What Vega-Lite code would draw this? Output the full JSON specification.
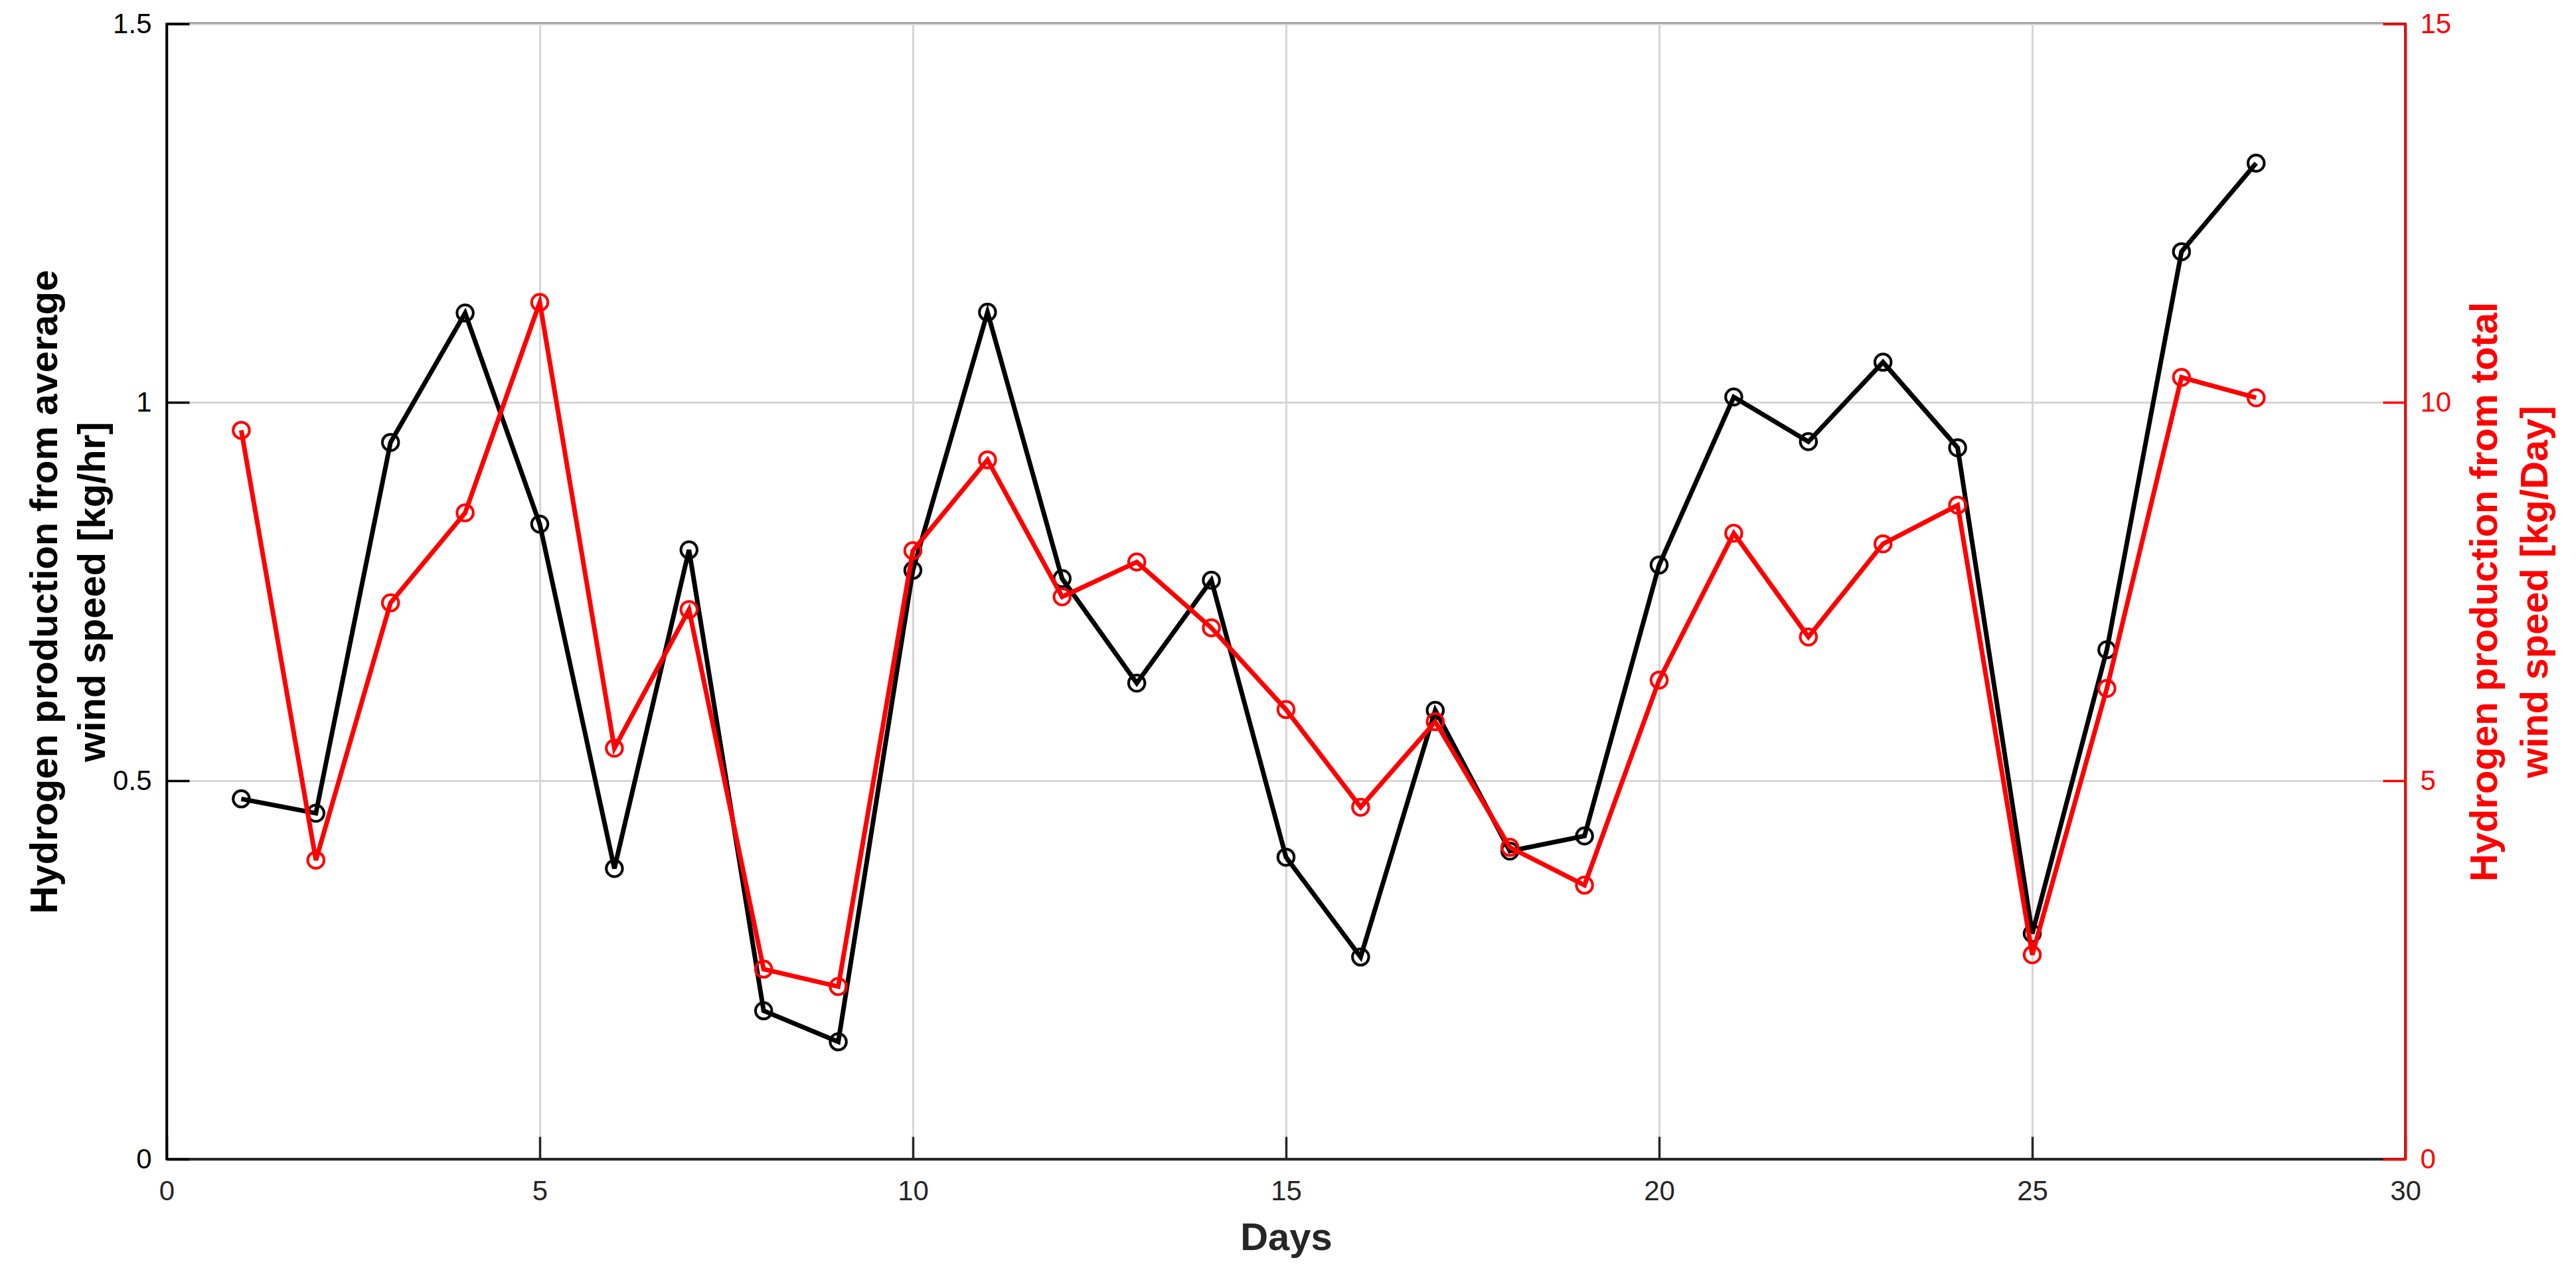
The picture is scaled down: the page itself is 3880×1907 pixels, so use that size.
{
  "$schema": "https://vega.github.io/schema/vega-lite/v6.json",
  "width": 3372,
  "height": 1710,
  "autosize": "none",
  "padding": {"left": 251, "top": 36, "right": 257, "bottom": 161},
  "background": "white",
  "config": {
    "font": "Liberation Sans",
    "view": {"stroke": "#000000", "strokeWidth": 3.5},
    "axis": {
      "labelFont": "Liberation Sans",
      "titleFont": "Liberation Sans",
      "labelFontSize": 42,
      "titleFontSize": 58,
      "titleFontWeight": "bold",
      "tickWidth": 3.5,
      "domainWidth": 3.5,
      "gridColor": "#d6d6d6",
      "gridWidth": 3,
      "gridOpacity": 1
    }
  },
  "data": {
    "values": [
      {"day": 1, "avg": 0.476, "total": 9.63},
      {"day": 2, "avg": 0.457, "total": 3.95},
      {"day": 3, "avg": 0.947, "total": 7.35},
      {"day": 4, "avg": 1.118, "total": 8.54},
      {"day": 5, "avg": 0.839, "total": 11.32},
      {"day": 6, "avg": 0.384, "total": 5.43},
      {"day": 7, "avg": 0.805, "total": 7.26},
      {"day": 8, "avg": 0.196, "total": 2.51},
      {"day": 9, "avg": 0.155, "total": 2.28},
      {"day": 10, "avg": 0.778, "total": 8.04},
      {"day": 11, "avg": 1.119, "total": 9.24},
      {"day": 12, "avg": 0.767, "total": 7.43},
      {"day": 13, "avg": 0.629, "total": 7.89},
      {"day": 14, "avg": 0.765, "total": 7.02},
      {"day": 15, "avg": 0.399, "total": 5.94},
      {"day": 16, "avg": 0.267, "total": 4.65},
      {"day": 17, "avg": 0.593, "total": 5.78},
      {"day": 18, "avg": 0.407, "total": 4.12},
      {"day": 19, "avg": 0.427, "total": 3.62},
      {"day": 20, "avg": 0.785, "total": 6.33},
      {"day": 21, "avg": 1.007, "total": 8.27},
      {"day": 22, "avg": 0.948, "total": 6.9},
      {"day": 23, "avg": 1.053, "total": 8.13},
      {"day": 24, "avg": 0.94, "total": 8.64},
      {"day": 25, "avg": 0.298, "total": 2.7},
      {"day": 26, "avg": 0.673, "total": 6.22},
      {"day": 27, "avg": 1.199, "total": 10.33},
      {"day": 28, "avg": 1.316, "total": 10.06}
    ]
  },
  "encoding": {
    "x": {
      "field": "day",
      "type": "quantitative",
      "scale": {"domain": [0, 30], "nice": false, "zero": false},
      "axis": {
        "values": [0, 5, 10, 15, 20, 25, 30],
        "title": "Days",
        "titleColor": "#262626",
        "labelColor": "#262626",
        "domainColor": "#262626",
        "tickColor": "#262626",
        "tickSize": -34,
        "labelPadding": 62,
        "labelFlush": false,
        "grid": true,
        "titleY": 136,
        "titleBaseline": "alphabetic"
      }
    }
  },
  "layer": [
    {
      "encoding": {
        "y": {
          "field": "avg",
          "type": "quantitative",
          "scale": {"domain": [0, 1.5], "nice": false},
          "axis": {
            "values": [0, 0.5, 1, 1.5],
            "format": "~g",
            "grid": true,
            "tickSize": -34,
            "labelPadding": 57,
            "labelFlush": false,
            "labelColor": "#000000",
            "domainColor": "#000000",
            "tickColor": "#000000",
            "titleColor": "#000000",
            "title": ["Hydrogen production from average", "wind speed [kg/hr]"],
            "titleAngle": 270,
            "titleAlign": "center",
            "titleBaseline": "alphabetic",
            "titleX": -166,
            "titleY": 855,
            "titleLineHeight": 72
          }
        }
      },
      "layer": [
        {"mark": {"type": "line", "color": "#000000", "strokeWidth": 7}},
        {"mark": {"type": "point", "shape": "circle", "filled": false, "color": "#000000", "size": 600, "strokeWidth": 4, "opacity": 1}}
      ]
    },
    {
      "encoding": {
        "y": {
          "field": "total",
          "type": "quantitative",
          "scale": {"domain": [0, 15], "nice": false},
          "axis": {
            "orient": "right",
            "values": [0, 5, 10, 15],
            "grid": false,
            "tickSize": -34,
            "labelPadding": 56,
            "labelFlush": false,
            "labelColor": "#ff0000",
            "domainColor": "#ff0000",
            "tickColor": "#ff0000",
            "titleColor": "#ff0000",
            "title": ["Hydrogen production from total", "wind speed [kg/Day]"],
            "titleAngle": 270,
            "titleAlign": "center",
            "titleBaseline": "alphabetic",
            "titleX": 137,
            "titleY": 855,
            "titleLineHeight": 76
          }
        }
      },
      "layer": [
        {"mark": {"type": "line", "color": "#ff0000", "strokeWidth": 7}},
        {"mark": {"type": "point", "shape": "circle", "filled": false, "color": "#ff0000", "size": 600, "strokeWidth": 4, "opacity": 1}}
      ]
    }
  ],
  "resolve": {"scale": {"y": "independent"}}
}
